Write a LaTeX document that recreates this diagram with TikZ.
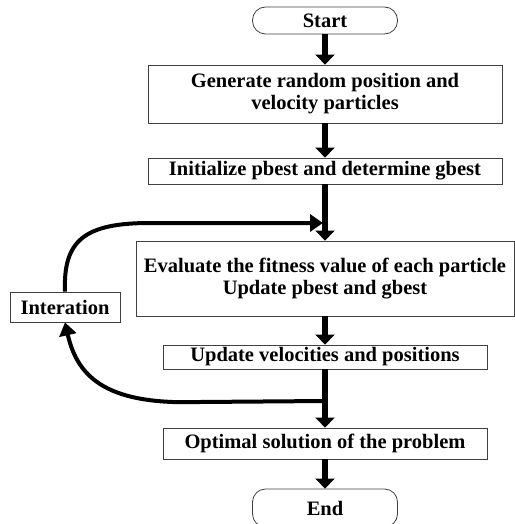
\documentclass[tikz,border=0pt]{standalone}
\usepackage{fontspec}
\setmainfont{Liberation Serif}
\usetikzlibrary{arrows.meta}
\tikzset{
    stepbox/.style={draw=black!75, line width=0.8pt, align=center, inner sep=0pt,
        font=\fontsize{20.5}{22}\selectfont\bfseries},
    termbox/.style={stepbox, rounded corners=13pt},
    flow/.style={line width=5.5pt, -{Triangle[width=19pt,length=10pt]}},
    loop/.style={line width=4pt, -{Triangle[width=17pt,length=13pt]}}
}
\begin{document}
\begin{tikzpicture}[x=1pt, y=1pt]
            \useasboundingbox (0,0) rectangle (514,-524);
            % main column
            \node[termbox, minimum width=145pt, minimum height=27pt] (start) at (325,-20.5) {Start};
            \node[stepbox, minimum width=354pt, minimum height=58pt] (gen) at (325,-94) {Generate random position and\\velocity particles};
            \node[stepbox, minimum width=354pt, minimum height=26pt] (init) at (325,-171) {Initialize pbest and determine gbest};
            \node[stepbox, minimum width=378pt, minimum height=75pt] (eval) at (325,-278.5) {Evaluate the fitness value of each particle\\Update pbest and gbest};
            \node[stepbox, minimum width=324pt, minimum height=24pt] (upd) at (325,-357) {Update velocities and positions};
            \node[stepbox, minimum width=324pt, minimum height=31pt] (opt) at (325,-443.5) {Optimal solution of the problem};
            \node[termbox, minimum width=145pt, minimum height=38pt] (end) at (325,-508) {End};
            % loop
            \node[stepbox, minimum width=110pt, minimum height=30pt] (intr) at (65,-307) {Interation};
            \coordinate (merge) at (323,-223);
            \coordinate (bendup) at (150,-223);
            \coordinate (split) at (325,-401);
            \coordinate (benddown) at (200,-402);
            % arrows
            \draw[flow] (start) -- (gen);
            \draw[flow] (gen) -- (init);
            \draw[flow] (init) -- (eval);
            \draw[flow] (eval) -- (upd);
            \draw[flow] (upd) -- (opt);
            \draw[flow] (opt) -- (end);
            \draw[loop] (intr.north) .. controls (63,-240) and (85,-223) .. (bendup) -- (merge);
            \draw[loop] (split) -- (benddown) .. controls (110,-405) and (78,-380) .. (intr.south);
        \end{tikzpicture}
\end{document}
